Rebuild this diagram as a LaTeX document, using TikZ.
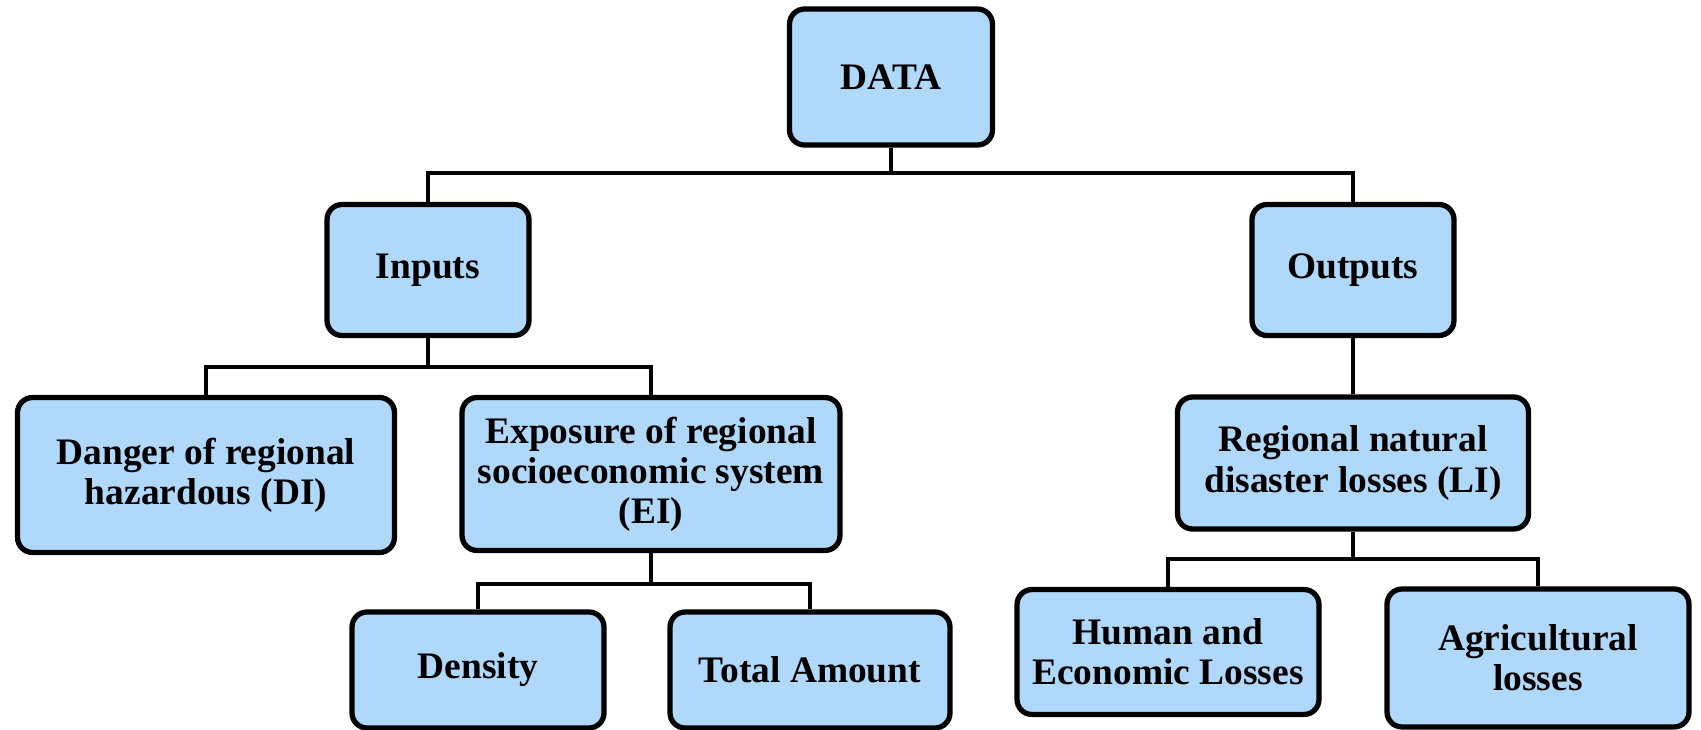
\documentclass[tikz,border=0pt]{standalone}
\usepackage{fontspec}
\setmainfont{Liberation Serif}
\definecolor{boxblue}{RGB}{176,216,251}
\tikzset{
  block/.style={draw,line width=3pt,rounded corners=0.3cm,fill=boxblue,
    align=center,inner sep=2pt,font=\bfseries\fontsize{21.3}{22.8}\selectfont},
  link/.style={line width=2.6pt}
}
\begin{document}
\begin{tikzpicture}[x=0.02cm,y=-0.02cm]
\useasboundingbox (0,0) rectangle (1701,730);
\node[block,minimum width=4.06cm,minimum height=2.72cm] (data)    at (891,77)  {DATA};
\node[block,minimum width=4.04cm,minimum height=2.62cm] (inputs)  at (428,270) {Inputs};
\node[block,minimum width=4.04cm,minimum height=2.62cm] (outputs) at (1353,270){Outputs};
\node[block,minimum width=7.54cm,minimum height=3.1cm]  (danger)  at (206,475) {Danger of regional\\hazardous (DI)};
\node[block,minimum width=7.56cm,minimum height=3.06cm] (expo)    at (651,474) {Exposure of regional\\socioeconomic system\\(EI)};
\node[block,minimum width=7.02cm,minimum height=2.64cm] (losses)  at (1353,463){Regional natural\\disaster losses (LI)};
\node[block,minimum width=5.04cm,minimum height=2.32cm] (density) at (478,670) {Density};
\node[block,minimum width=5.6cm,minimum height=2.32cm]  (total)   at (810,670) {Total Amount};
\node[block,minimum width=6.04cm,minimum height=2.5cm]  (human)   at (1168,652){Human and\\Economic Losses};
\node[block,minimum width=6.04cm,minimum height=2.76cm] (agri)    at (1538,658){Agricultural\\losses};

\coordinate (bardata)   at (891,173);
\coordinate (barinputs) at (428,367);
\coordinate (barexpo)   at (651,584);
\coordinate (barlosses) at (1353,559);

\draw[link] (data.south) -- (bardata);
\draw[link] (inputs.north) |- (bardata) -| (outputs.north);
\draw[link] (inputs.south) -- (barinputs);
\draw[link] (danger.north) |- (barinputs) -| (expo.north);
\draw[link] (expo.south) -- (barexpo);
\draw[link] (density.north) |- (barexpo) -| (total.north);
\draw[link] (outputs.south) -- (losses.north);
\draw[link] (losses.south) -- (barlosses);
\draw[link] (human.north) |- (barlosses) -| (agri.north);
\end{tikzpicture}
\end{document}
